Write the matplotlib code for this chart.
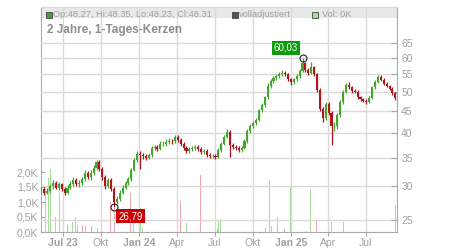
import matplotlib
matplotlib.use('Agg')
import matplotlib.pyplot as plt
import matplotlib.dates as mdates
from matplotlib.patches import Rectangle
import numpy as np
import pandas as pd

plt.rcParams['font.family'] = ['Liberation Sans', 'DejaVu Sans']

# weekly candles, one per week starting here
week_start = '2023-05-10'
first_open = 29.2
close = [29.5, 29.0, 29.3, 30.0, 30.5, 29.8, 30.3, 29.5, 29.0, 29.8,
         30.3, 31.0, 30.3, 30.5, 31.2, 32.2, 31.5, 32.3, 33.2, 34.3,
         33.0, 31.5, 30.0, 31.0, 29.5, 27.5, 28.0, 29.0, 29.8, 30.5,
         31.2, 32.8, 34.5, 35.8, 35.5, 35.3, 35.0, 35.5, 36.9, 37.2,
         36.8, 37.8, 37.8, 38.2, 38.4, 38.3, 39.2, 38.6, 37.8, 37.0,
         36.4, 36.8, 37.0, 37.2, 36.8, 36.2, 36.4, 35.6, 35.3, 35.3,
         35.2, 36.5, 37.8, 39.2, 40.3, 37.5, 37.2, 37.0, 36.6, 37.0,
         38.3, 40.5, 41.6, 42.3, 43.0, 45.2, 46.5, 48.5, 51.5, 53.0,
         53.8, 54.5, 55.0, 55.5, 55.0, 53.5, 52.8, 53.5, 54.5, 56.0,
         58.5, 56.3, 55.3, 57.2, 55.0, 50.5, 45.5, 43.5, 46.8, 44.5,
         41.5, 41.5, 44.0, 47.3, 50.0, 52.0, 51.2, 50.3, 50.0, 48.6,
         48.0, 47.5, 47.4, 48.4, 51.2, 52.8, 54.2, 53.4, 52.2, 51.6,
         50.8, 49.6, 48.31]
high = [30.0, 29.9, 29.7, 30.4, 31.0, 30.9, 30.7, 30.6, 29.9, 30.2,
        30.8, 31.5, 31.4, 31.0, 31.6, 32.7, 32.6, 32.8, 33.7, 34.6,
        34.5, 33.3, 31.9, 31.4, 31.3, 29.9, 28.4, 29.4, 30.2, 30.9,
        31.6, 33.2, 34.9, 36.3, 36.4, 35.9, 35.7, 36.0, 37.3, 37.6,
        37.6, 38.3, 38.3, 38.7, 38.9, 38.8, 39.6, 39.5, 38.9, 38.1,
        37.3, 37.2, 37.4, 37.6, 37.6, 37.1, 36.8, 36.7, 35.9, 35.8,
        35.7, 36.9, 38.2, 39.6, 41.0, 40.6, 37.9, 37.6, 37.4, 37.4,
        38.7, 40.9, 42.0, 42.8, 43.5, 45.6, 47.0, 49.0, 52.5, 53.5,
        54.4, 55.2, 55.6, 56.2, 56.0, 55.4, 54.0, 54.0, 55.0, 56.6,
        60.03, 58.8, 56.8, 58.6, 57.6, 55.4, 51.0, 46.0, 47.4, 47.2,
        45.0, 42.5, 44.5, 47.8, 50.5, 52.5, 52.6, 51.6, 50.8, 50.4,
        49.0, 48.4, 48.0, 48.8, 51.6, 53.3, 54.8, 54.8, 53.8, 52.6,
        52.0, 51.2, 50.0]
low = [28.8, 28.6, 28.7, 29.0, 29.6, 29.5, 29.4, 29.2, 28.6, 28.7,
       29.5, 30.0, 30.0, 29.9, 30.2, 30.9, 31.2, 31.1, 31.9, 32.8,
       32.6, 31.1, 29.6, 29.7, 29.2, 26.79, 27.2, 27.7, 28.7, 29.5,
       30.2, 30.9, 32.5, 34.2, 33.0, 34.8, 34.5, 34.7, 35.2, 36.5,
       36.4, 36.5, 37.3, 37.4, 37.8, 37.8, 38.0, 38.2, 37.4, 36.6,
       36.0, 36.0, 36.4, 36.6, 36.4, 35.8, 35.8, 35.2, 34.9, 34.9,
       34.8, 35.0, 36.2, 37.5, 38.9, 35.1, 36.8, 36.6, 36.2, 36.2,
       36.7, 38.0, 40.1, 41.2, 41.9, 42.7, 44.8, 46.1, 48.2, 51.0,
       52.5, 53.3, 54.0, 54.5, 54.5, 53.0, 51.8, 52.3, 53.0, 54.0,
       55.6, 55.8, 54.8, 55.0, 54.5, 50.0, 45.0, 42.5, 43.0, 44.0,
       37.5, 40.5, 41.0, 43.6, 46.9, 49.6, 50.8, 49.8, 49.6, 48.2,
       47.6, 47.2, 46.8, 47.0, 48.0, 50.8, 52.4, 53.0, 51.8, 51.2,
       50.4, 49.2, 47.8]

# volume spikes (thousands)
vol_dates = ['2023-05-09', '2023-05-19', '2023-05-26', '2023-06-01', '2023-06-12',
             '2023-06-23', '2023-07-06', '2023-07-11', '2023-07-24', '2023-07-31',
             '2023-08-04', '2023-08-11', '2023-08-18', '2023-08-25', '2023-09-08',
             '2023-09-22', '2023-10-23', '2023-11-03', '2023-12-05', '2023-12-12',
             '2023-12-19', '2024-01-03', '2024-01-08', '2024-04-09', '2024-04-24',
             '2024-05-27', '2024-06-27', '2024-07-08', '2024-07-10', '2024-07-15',
             '2024-07-26', '2024-10-31', '2024-11-11', '2024-11-15', '2024-11-29',
             '2024-12-16', '2024-12-30', '2025-01-06', '2025-01-23', '2025-02-07',
             '2025-02-17', '2025-03-03', '2025-03-05', '2025-03-17', '2025-04-10',
             '2025-04-15', '2025-05-09', '2025-06-12', '2025-09-11']
vol_k = [0.1, 1.45, 1.8, 2.1, 0.5, 1.3, 0.3, 0.25, 0.35, 0.5,
         0.25, 0.7, 0.25, 0.2, 0.2, 0.15, 1.0, 0.8, 0.25, 1.3,
         0.3, 0.8, 0.15, 1.05, 0.3, 1.9, 0.2, 0.1, 0.4, 0.45,
         1.2, 0.15, 1.75, 0.2, 0.5, 0.1, 1.5, 0.1, 0.2, 0.05,
         1.4, 0.4, 0.45, 0.8, 0.35, 0.45, 0.35, 0.7, 0.9]
vol_up = [0, 1, 1, 1, 1, 1, 0, 0, 1, 1,
          1, 1, 0, 1, 0, 1, 0, 0, 1, 0,
          1, 1, 1, 0, 1, 0, 1, 0, 1, 1,
          1, 1, 1, 1, 1, 0, 1, 0, 0, 1,
          1, 0, 0, 1, 1, 1, 1, 1, 1]

month_ticks = ['2023-07-01', '2023-10-01', '2024-01-01', '2024-04-01', '2024-07-01',
               '2024-10-01', '2025-01-01', '2025-04-01', '2025-07-01']
month_labels = ['Jul 23', 'Okt', 'Jan 24', 'Apr', 'Jul', 'Okt', 'Jan 25', 'Apr', 'Jul']
price_ticks = [25, 30, 35, 40, 45, 50, 55, 60, 65]
vol_ticks = [0.0, 0.5, 1.0, 1.5, 2.0]
vol_labels = ['0,0K', '0,5K', '1,0K', '1,5K', '2,0K']

GREEN = '#45a52c'
RED = '#b3141c'
GRID = '#dadada'
AXC = '#aaaaaa'
TXT = '#a0a0a0'

dates = pd.date_range(week_start, periods=len(close), freq='7D')
opens = [first_open] + close[:-1]
o = np.array(opens)
c = np.array(close)
cols = [GREEN if cc >= oo else RED for oo, cc in zip(o, c)]

fig = plt.figure(figsize=(4.5, 2.5), dpi=100)
ax_v = fig.add_axes([41 / 450, 18 / 250, 356 / 450, 225 / 250])
ax_p = ax_v.twinx()

# header band
ax_v.set_axisbelow(True)
ax_v.add_patch(Rectangle((0, 1 - 11 / 225), 1, 11 / 225, transform=ax_v.transAxes,
                         facecolor='#e8e8e8', edgecolor='none', zorder=0.3))

# volume
ax_v.bar(pd.to_datetime(vol_dates), vol_k, width=2.2,
         color=['#a6dc9a' if u else '#f2a4ae' for u in vol_up], zorder=2)
ax_v.set_ylim(0, 7.5)
ax_v.set_yticks(vol_ticks)
ax_v.set_yticklabels(vol_labels)
ax_v.grid(True, axis='x', color=GRID, lw=1.0)

# candles
ax_p.vlines(dates, low, high, colors=cols, lw=0.9, zorder=3)
ax_p.bar(dates, np.abs(c - o), bottom=np.minimum(o, c), width=5.0, color=cols, zorder=3)
ax_p.set_yscale('log')
ax_p.set_ylim(23.43, 79.1)
ax_p.set_yticks(price_ticks)
ax_p.set_yticklabels([str(t) for t in price_ticks])
ax_p.yaxis.set_minor_locator(matplotlib.ticker.NullLocator())
ax_p.grid(True, axis='y', color=GRID, lw=1.0, zorder=1)
ax_p.set_axisbelow(True)

ax_v.set_xlim(pd.Timestamp('2023-05-09'), pd.Timestamp('2025-09-14'))
ax_v.set_xticks(pd.to_datetime(month_ticks))
ax_v.set_xticklabels(month_labels)
for lab in ax_v.get_xticklabels():
    if ' ' in lab.get_text():
        lab.set_fontweight('bold')

for a in (ax_v, ax_p):
    for s in a.spines.values():
        s.set_visible(False)
ax_v.spines['left'].set_visible(True)
ax_v.spines['left'].set_color(AXC)
ax_v.spines['bottom'].set_visible(True)
ax_v.spines['bottom'].set_color(AXC)
ax_p.spines['right'].set_visible(True)
ax_p.spines['right'].set_color(AXC)
ax_p.spines['top'].set_visible(True)
ax_p.spines['top'].set_color('#d8d8d8')

ax_v.tick_params(axis='y', direction='in', length=3, color=AXC, labelcolor=TXT,
                 labelsize=7.5, pad=2)
ax_v.tick_params(axis='x', direction='out', length=3, color=AXC, labelcolor=TXT,
                 labelsize=7.5, pad=1.5)
ax_p.tick_params(axis='y', direction='in', length=4, color=AXC, labelcolor=TXT,
                 labelsize=7.5, pad=3)

# high / low markers
i_hi = int(np.argmax(high))
i_lo = int(np.argmin(low))
ax_p.plot([dates[i_hi]], [high[i_hi]], 'o', mfc='none', mec='#222222', ms=5, mew=0.8, zorder=5)
ax_p.plot([dates[i_lo]], [low[i_lo]], 'o', mfc='none', mec='#222222', ms=5, mew=0.8, zorder=5)
ax_p.annotate(f'{high[i_hi]:.2f}'.replace('.', ','), (dates[i_hi], high[i_hi]),
              xytext=(-12, 7.5), textcoords='offset points', ha='center', va='center',
              fontsize=7, color='white',
              bbox=dict(boxstyle='square,pad=0.2', fc='#0e9c0e', ec='none'), zorder=6)
ax_p.annotate(f'{low[i_lo]:.2f}'.replace('.', ','), (dates[i_lo], low[i_lo]),
              xytext=(12, -6.5), textcoords='offset points', ha='center', va='center',
              fontsize=7, color='white',
              bbox=dict(boxstyle='square,pad=0.2', fc='#cc0000', ec='none'), zorder=6)

# header legend
def square(x, color):
    fig.patches.append(Rectangle((x / 450, 1 - 17.5 / 250), 6 / 450, 6 / 250,
                                 transform=fig.transFigure, facecolor=color,
                                 edgecolor='#444444', lw=0.6))

square(46, '#3aa82a')
fig.text(53 / 450, 1 - 14.5 / 250, 'Op:48.27, Hi:48.35, Lo:48.23, Cl:48.31',
         fontsize=6.7, color=TXT, va='center')
square(231.5, '#555555')
fig.text(239 / 450, 1 - 14.5 / 250, 'volladjustiert', fontsize=6.7, color=TXT, va='center')
square(312, '#a8dc9a')
fig.text(321.5 / 450, 1 - 14.5 / 250, 'Vol: 0K', fontsize=6.7, color=TXT, va='center')
fig.text(47 / 450, 1 - 30 / 250, '2 Jahre, 1-Tages-Kerzen', fontsize=8.5,
         fontweight='bold', color='#8c8c8c', va='center')

fig.savefig('out.png', dpi=100)
